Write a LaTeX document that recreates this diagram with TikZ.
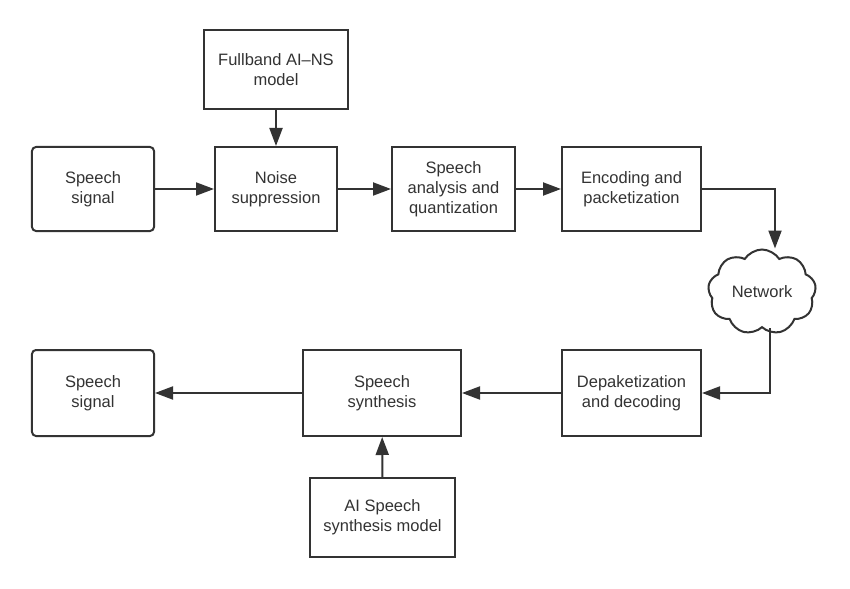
\documentclass[tikz,border=0pt]{standalone}
\usepackage{fontspec}
\setmainfont{Liberation Sans}
\usetikzlibrary{arrows.meta, shapes.symbols}
\definecolor{ink}{HTML}{333333}

\begin{document}
\begin{tikzpicture}[x=1bp, y=-1bp, > = {Triangle[length=18bp, width=13bp]},
	blok/.style={draw=ink, line width=2bp, fill=white, text=ink, align=center,
		inner sep=0pt, font=\fontsize{16.5bp}{20bp}\selectfont},
	bron/.style={blok, rounded corners=4bp},
	pijl/.style={->, draw=ink, line width=2bp}]
	\useasboundingbox (0,0) rectangle (850,589);
	
	%% Zender
	\node [bron, minimum width=122bp, minimum height=84bp] (sig1) at (93,189) {Speech\\signal};
	\node [blok, minimum width=122bp, minimum height=84bp] (ns) at (276,189) {Noise\\suppression};
	\node [blok, minimum width=144bp, minimum height=79bp] (fb) at (276,69.5) {Fullband AI--NS\\model};
	\node [blok, minimum width=123bp, minimum height=84bp] (sa) at (453.5,189) {Speech\\analysis and\\quantization};
	\node [blok, minimum width=139bp, minimum height=84bp] (enc) at (631.5,189) {Encoding and\\packetization};
	
	%% Netwerk
	\node [blok, cloud, cloud puffs=9, cloud puff arc=115, aspect=1.25,
		minimum width=108bp, minimum height=85bp] (net) at (762,292) {Network};
	
	%% Ontvanger
	\node [blok, minimum width=139bp, minimum height=86bp] (dec) at (631.5,393) {Depaketization\\and decoding};
	\node [blok, minimum width=158bp, minimum height=86bp] (syn) at (382,393) {Speech\\synthesis};
	\node [bron, minimum width=122bp, minimum height=86bp] (sig2) at (93,393) {Speech\\signal};
	\node [blok, minimum width=145bp, minimum height=79bp] (ai) at (382.5,517.5) {AI Speech\\synthesis model};
	
	%% Pijlen
	\draw [pijl] (sig1) -- (ns);
	\draw [pijl] (fb) -- (ns);
	\draw [pijl] (ns) -- (sa);
	\draw [pijl] (sa) -- (enc);
	\draw [pijl] (enc.east) -| ([xshift=13bp]net.north);
	\draw [pijl] ([xshift=8bp]net.south) |- (dec.east);
	\draw [pijl] (dec) -- (syn);
	\draw [pijl] (syn) -- (sig2);
	\draw [pijl] (ai) -- (syn);
\end{tikzpicture}
\end{document}
